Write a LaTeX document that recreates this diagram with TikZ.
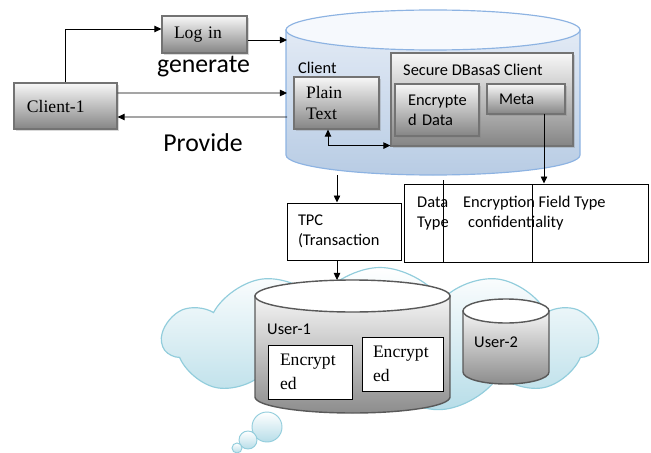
\documentclass[tikz,border=0pt]{standalone}
\usepackage{fontspec}
\setmainfont{Liberation Serif}
\newfontfamily\calib{Carlito}
\usetikzlibrary{arrows.meta,shapes.symbols,shadows}
\definecolor{dbline}{RGB}{141,179,226}
\definecolor{dbtop}{RGB}{246,249,253}
\definecolor{dbmid}{RGB}{226,234,245}
\definecolor{dbbot}{RGB}{184,204,228}
\definecolor{cloudline}{RGB}{146,205,220}
\definecolor{cloudbot}{RGB}{183,221,232}

\begin{document}
\begin{tikzpicture}[x=0.03cm, y=0.03cm,
		arr/.style={-{Triangle[length=6pt,width=5.5pt]}, line width=0.8pt},
		grbox/.style={draw=black!55, line width=1pt, top color=black!3, bottom color=black!48,
			drop shadow={shadow xshift=1.5pt, shadow yshift=-1.5pt, opacity=0.3},
			inner ysep=0pt, align=left, font=\fontsize{15}{18}\selectfont},
		wbox/.style={draw, line width=0.8pt, fill=white, inner ysep=0pt, align=left},
		sans/.style={font=\calib\fontsize{14}{17}\selectfont},
		big/.style={font=\calib\fontsize{22}{26}\selectfont},
		txt/.style={inner sep=0pt, align=left}]
			\useasboundingbox (0,0) rectangle (651,-452);
			% cloud and the users
			\node[cloud, cloud puffs=11, cloud puff arc=110, cloud ignores aspect, draw=cloudline, line width=1pt,
				top color=white, bottom color=cloudbot, minimum width=13.05cm, minimum height=4.35cm] (cloud) at (380,-340) {};
			\draw[cloudline, line width=0.8pt, top color=white, bottom color=cloudbot] (267,-427) circle (0.45cm);
			\draw[cloudline, line width=0.8pt, top color=white, bottom color=cloudbot] (248,-440) circle (0.27cm);
			\draw[cloudline, line width=0.8pt, top color=white, bottom color=cloudbot] (237,-448) circle (0.15cm);
			\draw[black!65, line width=1.2pt, top color=black!4, bottom color=black!45]
				(255,-296) -- (255,-397) arc[start angle=180, end angle=360, x radius=2.925cm, y radius=0.48cm] -- (450,-296) -- cycle;
			\draw[black!65, line width=1.2pt, fill=white] (352.5,-296) ellipse [x radius=2.925cm, y radius=0.48cm];
			\draw[black!65, line width=1.2pt, top color=black!4, bottom color=black!45]
				(463,-311) -- (463,-372) arc[start angle=180, end angle=360, x radius=1.29cm, y radius=0.36cm] -- (549,-311) -- cycle;
			\draw[black!65, line width=1.2pt, fill=white] (506,-311) ellipse [x radius=1.29cm, y radius=0.36cm];
			\node[sans, txt, anchor=base west] (user1) at (267,-334) {User-1};
			\node[sans, txt, anchor=base west] (user2) at (474,-347) {User-2};
			\node[wbox, text width=1.8cm, inner xsep=0.36cm, minimum height=1.62cm, font=\fontsize{15}{20}\selectfont] (enc1) at (310,-372) {Encrypt\\ed};
			\node[wbox, text width=1.77cm, inner xsep=0.33cm, minimum height=1.62cm, font=\fontsize{15}{20}\selectfont] (enc2) at (402.5,-364) {Encrypt\\ed};
			\coordinate (u1top) at (337,-280);
			% database of the client
			\draw[dbline, line width=1pt, top color=dbmid, bottom color=dbbot]
				(286,-30) -- (286,-155) arc[start angle=180, end angle=360, x radius=4.41cm, y radius=0.6cm] -- (580,-30) -- cycle;
			\draw[dbline, line width=1pt, fill=dbtop] (433,-30) ellipse [x radius=4.41cm, y radius=0.6cm];
			\node[sans, txt, anchor=base west] (clientttl) at (298,-74) {Client};
			\node[grbox, text width=1.83cm, inner xsep=0.36cm, minimum height=1.56cm] (plain) at (336.5,-103) {Plain\\Text};
			\node[grbox, minimum width=5.46cm, minimum height=2.79cm] (secure) at (482,-99.5) {};
			\node[sans, txt, anchor=base west] (securettl) at (403,-76) {Secure DBasaS Client};
			\node[grbox, sans, text width=1.74cm, inner xsep=0.39cm, minimum height=1.56cm] (encdata) at (437,-110) {Encrypte\\d Data};
			\node[grbox, sans, text width=1.62cm, inner xsep=0.36cm, minimum height=0.9cm] (meta) at (526,-99) {Meta};
			\coordinate (dbL1) at (287,-40);
			\coordinate (dbL2) at (287,-93);
			\coordinate (dbL3) at (287,-117);
			\coordinate (dbB) at (337,-175);
			\coordinate (metaout) at (544,-114);
			% left side
			\node[grbox, text width=2.31cm, inner xsep=0.39cm, minimum height=1.38cm] (client1) at (65.5,-106) {Client-1};
			\node[grbox, text width=1.83cm, inner xsep=0.36cm, minimum height=1.11cm] (login) at (204.5,-34.5) {Log in};
			\node[big, txt, anchor=base] (generate) at (203.5,-73) {generate};
			\node[big, txt, anchor=base] (provide) at (203,-151) {Provide};
			\draw[arr] (client1.north) |- ([yshift=0.165cm]login.west);
			\draw[arr] ([yshift=-0.165cm]login.east) -- (dbL1);
			\draw[arr] ([yshift=0.39cm]client1.east) -- (dbL2);
			\draw[arr] (dbL3) -- ([yshift=-0.33cm]client1.east);
			\draw[{Triangle[length=6pt,width=5.5pt]}-{Triangle[length=6pt,width=5.5pt]}, line width=0.8pt]
				([xshift=-0.255cm]plain.south) |- ([yshift=0.03cm]secure.south west);
			% meta table and TPC
			\node[draw, line width=0.8pt, minimum width=7.32cm, minimum height=2.34cm] (tbl) at (526,-223) {};
			\draw[line width=0.8pt] (443,-180) -- (443,-180 |- tbl.south);
			\draw[line width=0.8pt] (532,-184) -- (532,-184 |- tbl.south);
			\node[sans, txt, anchor=base west] (dtype1) at (417,-207) {Data};
			\node[sans, txt, anchor=base west] (dtype2) at (417,-227) {Type};
			\node[sans, txt, anchor=base west] (encfield) at (463,-207) {Encryption Field Type};
			\node[sans, txt, anchor=base west] (confid) at (468,-227) {confidentiality};
			\draw[arr] (metaout) -- (metaout |- tbl.north);
			\node[wbox, sans, text width=2.76cm, inner xsep=0.33cm, minimum height=1.71cm] (tpc) at (344,-231.5) {TPC\\(Transaction};
			\draw[arr] (dbB) -- (dbB |- tpc.north);
			\draw[arr] (dbB |- tpc.south) -- (u1top);
		\end{tikzpicture}
\end{document}
